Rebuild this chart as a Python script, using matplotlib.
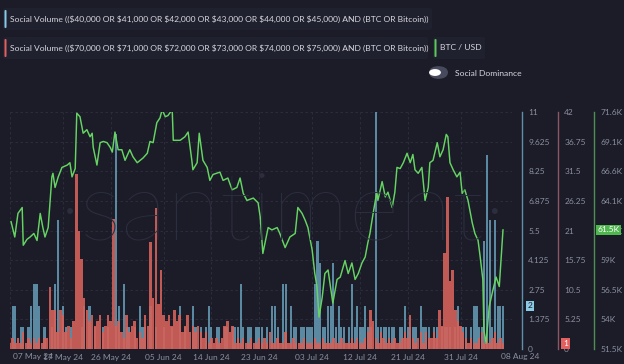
import numpy as np
import matplotlib
matplotlib.use("Agg")
import matplotlib.pyplot as plt
from matplotlib.patches import FancyBboxPatch
import pandas as pd

# ---------------- data ----------------
start = pd.Timestamp("2024-05-07")
bar_step_days = 0.5  # one bar every 12 hours

blue_volume = [0,2,2,0,1,1,0,1,2,3,
               3,2,0,1,0,0,1,3,6,0,
               2,1,0,1,0,0,0,1,2,0,
               2,0,1,0,0,1,0,1,0,0,
               10,2,0,3,1,1,0,1,0,2,
               1,1,0,2,0,1,0,0,1,0,
               0,1,0,0,2,0,1,0,0,2,
               1,0,1,0,1,2,1,0,1,1,
               0,1,1,0,1,1,1,3,1,0,
               1,1,0,1,1,1,0,1,0,2,
               2,1,0,3,3,0,2,1,1,0,
               1,1,1,1,1,3,5,4,1,1,
               2,2,4,1,2,1,1,0,1,3,
               1,2,1,1,2,1,1,0,11,1,
               1,1,1,1,1,1,0,1,1,2,
               1,1,1,1,0,2,1,1,1,0,
               1,1,0,1,1,1,1,0,1,2,
               1,1,1,0,1,2,2,1,1,5,
               9,6,1,6,2,2,2]

red_volume = [1,2,1,2,1,3,1,2,1,2,
              1,2,1,2,2,11,7,7,3,7,
              6,3,4,2,5,31,21,16,9,7,
              5,6,4,5,6,3,4,6,5,23,
              4,5,3,2,6,3,4,5,2,3,
              2,6,4,19,9,25,8,14,6,5,
              6,4,7,5,6,3,4,6,3,4,
              3,4,3,2,3,1,2,1,2,1,
              2,4,5,3,4,1,2,1,2,1,
              1,2,1,1,2,1,2,1,3,1,
              1,2,1,1,3,1,1,2,1,1,
              1,2,1,1,1,2,1,1,2,1,
              1,1,2,1,1,2,1,1,1,2,
              1,2,1,1,2,3,7,5,2,1,
              3,2,1,2,1,2,1,1,2,3,
              2,6,2,1,2,3,1,3,2,2,
              3,2,7,4,17,27,12,14,7,5,
              4,3,2,1,2,1,1,2,3,1,
              2,1,2,3,1,2,1]

# BTC price: (days since 07 May 2024, price in thousands USD)
price_day = [0.2,0.9,1.5,2.3,2.5,3.2,3.8,4.5,5.1,5.7,6.2,6.6,7.2,7.9,8.1,8.5,9.1,9.8,10.8,11.3,
             11.7,12.3,12.6,13.2,13.8,14.5,15.1,15.5,15.7,16.4,17.0,17.6,18.3,18.9,19.3,19.8,20.4,21.1,21.7,22.6,
             23.2,24.0,25.1,25.9,26.4,27.0,27.7,28.3,28.7,29.3,29.8,30.6,30.8,32.1,33.0,33.6,34.3,34.5,35.3,35.7,
             36.4,37.2,37.7,38.3,39.6,40.2,41.1,41.9,42.8,43.4,44.0,44.7,45.9,46.8,47.2,47.7,48.7,49.4,50.4,50.9,
             51.9,52.8,53.8,54.3,55.1,55.7,56.2,57.0,57.5,57.9,58.3,58.9,59.4,60.0,60.9,61.7,62.3,63.2,63.8,64.5,
             65.1,65.7,66.4,67.0,67.5,67.9,68.5,69.2,69.4,70.2,70.8,71.3,72.1,72.6,73.0,73.6,74.2,74.9,75.5,76.0,
             76.4,77.0,77.7,78.3,78.9,79.2,79.8,80.6,81.1,81.7,82.3,82.6,83.0,83.6,84.3,84.9,85.3,85.8,86.4,87.2,
             87.7,88.3,88.7,89.2,89.4,89.8,90.4,91.1,91.7,92.3,92.6,93.0]
price_k = [62.3,61.0,63.0,63.5,60.3,60.8,61.0,61.3,60.7,63.0,61.8,61.0,61.8,66.1,66.4,65.2,66.1,66.9,67.1,67.3,
           66.1,66.8,71.5,71.2,69.8,70.1,69.5,69.8,68.6,67.1,69.0,69.1,69.0,68.6,68.2,69.9,68.4,68.4,67.5,68.4,
           67.8,67.3,67.7,68.1,69.1,69.0,70.7,71.1,71.8,71.2,71.3,71.8,69.2,69.2,69.5,69.9,67.5,66.7,67.3,69.8,
           67.5,66.9,65.8,66.3,66.5,65.8,66.0,65.0,65.2,66.0,64.7,64.1,64.3,63.9,62.7,59.6,61.8,61.6,61.8,61.3,
           60.1,61.0,61.3,63.5,63.0,62.4,61.8,59.9,57.9,56.8,54.2,55.9,57.9,58.2,55.4,57.4,57.6,59.0,57.9,58.8,
           57.4,57.9,58.8,59.3,60.5,61.3,63.0,64.8,64.1,65.7,64.4,64.8,63.5,64.8,66.9,66.8,67.3,68.1,67.3,68.0,
           66.7,66.4,66.9,64.1,65.2,67.3,67.5,69.0,67.8,68.4,69.7,69.5,67.3,66.7,66.1,66.5,64.7,65.0,64.1,62.2,
           61.3,60.7,59.3,57.4,53.1,52.0,55.1,56.5,57.6,56.8,58.8,61.6]

x_tick_dates = ["2024-05-17","2024-05-26","2024-06-05","2024-06-14","2024-06-23",
                "2024-07-03","2024-07-12","2024-07-21","2024-07-31"]
x_tick_labels = ["17 May 24","26 May 24","05 Jun 24","14 Jun 24","23 Jun 24",
                 "03 Jul 24","12 Jul 24","21 Jul 24","31 Jul 24"]
first_label = "07 May 24"
last_date, last_label = "2024-08-08", "08 Aug 24"

blue_ticks = [0, 1.375, 2.75, 4.125, 5.5, 6.875, 8.25, 9.625, 11]
blue_labels = ["0","1.375","2.75","4.125","5.5","6.875","8.25","9.625","11"]
red_ticks = [0, 5.25, 10.5, 15.75, 21, 26.25, 31.5, 36.75, 42]
red_labels = ["0","5.25","10.5","15.75","21","26.25","31.5","36.75","42"]
price_ticks = [51.5, 54.0125, 56.525, 59.0375, 61.55, 64.0625, 66.575, 69.0875, 71.6]
price_labels = ["51.5K","54K","56.5K","59K","61.5K","64.1K","66.6K","69.1K","71.6K"]
price_last_label = "61.5K"

legend_blue = "Social Volume ((\\$40,000 OR \\$41,000 OR \\$42,000 OR \\$43,000 OR \\$44,000 OR \\$45,000) AND (BTC OR Bitcoin))"
legend_red = "Social Volume ((\\$70,000 OR \\$71,000 OR \\$72,000 OR \\$73,000 OR \\$74,000 OR \\$75,000) AND (BTC OR Bitcoin))"
legend_price = "BTC / USD"
toggle_label = "Social Dominance"

# ---------------- style ----------------
BG = "#1b1c28"
BOX = "#20212e"
GRID = "#2e3041"
TXT = "#d6d7de"
TICK = "#8b8fa0"
BLUE = "#74b4d2"
RED = "#d4615a"
GREEN = "#66d463"
FONT = "Lato"
FS_TICK = 6.0
FS_LEG = 6.1

W, H = 624, 364
fig = plt.figure(figsize=(W / 100, H / 100), dpi=100, facecolor=BG)

def fx(px):
    return px / W

def fy(py):
    return 1 - py / H

# watermark (behind the axes)
fig.text(fx(283), fy(213), "\u00b7santiment\u00b7", ha="center", va="center", fontsize=70,
         color="#2c2e3f", family=FONT, fontweight="light", zorder=0)

L, R, T, B = 10, 512, 112, 349
ax = fig.add_axes([fx(L), fy(B), fx(R - L), (B - T) / H])
ax.patch.set_visible(False)
ax_red = ax.twinx()
ax_price = ax.twinx()
for a in (ax_red, ax_price):
    a.patch.set_visible(False)

days_end = 94.7
bar_x = np.arange(len(blue_volume)) * bar_step_days
red_x = np.arange(len(red_volume)) * bar_step_days

ax_red.bar(red_x, red_volume, width=0.47, color=RED, alpha=0.9, linewidth=0, zorder=2)
ax.bar(bar_x, blue_volume, width=0.4, color=BLUE, alpha=0.72, linewidth=0, zorder=3)
ax_price.plot(price_day, price_k, color=GREEN, lw=1.05, zorder=5)

for a in (ax, ax_red, ax_price):
    a.set_xlim(0, days_end)
ax.set_ylim(0, 11)
ax_red.set_ylim(0, 42)
ax_price.set_ylim(51.5, 71.6)

# x ticks
tick_pos = [(pd.Timestamp(d) - start).days for d in x_tick_dates]
ax.set_xticks(tick_pos)
ax.set_xticklabels(x_tick_labels, fontsize=FS_TICK, color=TICK, family=FONT)
ax.tick_params(axis="x", length=0, pad=3.5)
ax.text(0.6, -0.015, first_label, transform=ax.get_xaxis_transform(), ha="left", va="top",
        fontsize=FS_TICK, color=TICK, family=FONT)
ax.text((pd.Timestamp(last_date) - start).days - 0.3, -0.015, last_label,
        transform=ax.get_xaxis_transform(), ha="left", va="top", fontsize=FS_TICK, color=TICK,
        family=FONT)

# grid
for yv in blue_ticks:
    ax.axhline(yv, color=GRID, lw=0.6, ls=(0, (3, 3)), zorder=0)
for xv in [0] + tick_pos:
    ax.axvline(xv, color=GRID, lw=0.6, ls=(0, (3, 3)), zorder=0)

for a in (ax, ax_red, ax_price):
    for s in ("top", "left", "bottom"):
        a.spines[s].set_visible(False)
ax.tick_params(axis="y", left=False, labelleft=False)

# right axes
def style_right(a, pos, color, ticks, labels):
    a.spines["right"].set_position(("axes", pos))
    a.spines["right"].set_color(color)
    a.spines["right"].set_linewidth(1.0)
    a.yaxis.set_ticks_position("right")
    a.set_yticks(ticks)
    a.set_yticklabels(labels, fontsize=FS_TICK, color=TICK, family=FONT)
    a.tick_params(axis="y", length=0, pad=4.5)

style_right(ax, (522 - L) / (R - L), "#5f8fab", blue_ticks, blue_labels)
ax.tick_params(axis="y", right=True, labelright=True, length=0)
style_right(ax_red, (558 - L) / (R - L), "#8c5662", red_ticks, red_labels)
style_right(ax_price, (594 - L) / (R - L), "#4e8f52", price_ticks, price_labels)

# last-value badges
def badge(a, xpos, yval, text, fc, tc):
    a.text(xpos, yval, text, transform=a.get_yaxis_transform(), ha="left", va="center",
           fontsize=FS_TICK, color=tc, family=FONT, zorder=10,
           bbox=dict(boxstyle="square,pad=0.2", fc=fc, ec="none"))

badge(ax, (527.5 - L) / (R - L), blue_volume[-1], str(blue_volume[-1]), "#8ccbe6", "#1b1c28")
badge(ax_red, (563 - L) / (R - L), red_volume[-1], str(red_volume[-1]), "#e4605e", "white")
badge(ax_price, (597.5 - L) / (R - L), price_k[-1], price_last_label, "#4fb74d", "white")

# legend boxes
def legend_item(x0, y0, w, h, color, label):
    fig.patches.append(FancyBboxPatch((fx(x0), fy(y0 + h)), fx(w), h / H,
                                      boxstyle="round,pad=0,rounding_size=0.004",
                                      transform=fig.transFigure, fc=BOX, ec="none"))
    fig.patches.append(FancyBboxPatch((fx(x0 + 1.5), fy(y0 + h - 2)), fx(2), (h - 4) / H,
                                      boxstyle="round,pad=0,rounding_size=0.002",
                                      transform=fig.transFigure, fc=color, ec="none"))
    fig.text(fx(x0 + 7.5), fy(y0 + h / 2), label, ha="left", va="center",
             fontsize=FS_LEG, color=TXT, family=FONT)

legend_item(3, 8, 429, 22, "#86cbe8", legend_blue)
legend_item(3, 37, 425, 22, "#e4605e", legend_red)
legend_item(433, 37, 52, 22, "#5cc95a", legend_price)

# toggle
fig.patches.append(FancyBboxPatch((fx(429), fy(79)), fx(19), 13 / H,
                                  boxstyle="round,pad=0,rounding_size=0.018",
                                  transform=fig.transFigure, fc="#474a5c", ec="none"))
fig.patches.append(plt.Circle((fx(435), fy(72.5)), 0.0095, transform=fig.transFigure,
                              fc="white", ec="none"))
fig.text(fx(455), fy(73), toggle_label, ha="left", va="center", fontsize=FS_LEG,
         color=TXT, family=FONT)

fig.savefig("out.png", dpi=100, facecolor=BG)
